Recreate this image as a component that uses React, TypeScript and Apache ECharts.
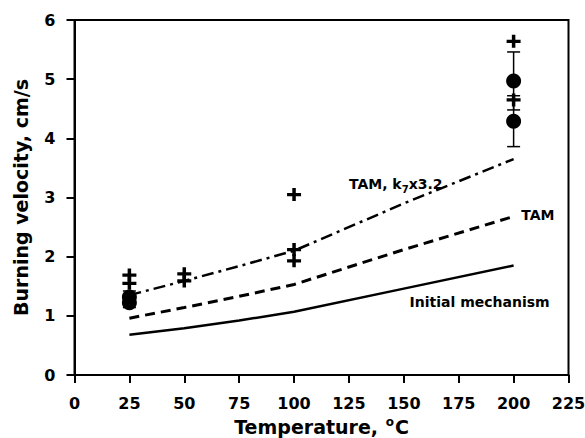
import React, { useEffect, useRef } from "react";
import * as echarts from "echarts";

const xTicks = [0, 25, 50, 75, 100, 125, 150, 175, 200, 225];
const initialMech: [number, number][] = [
  [25, 0.68], [50, 0.79], [75, 0.92], [100, 1.07], [150, 1.46], [200, 1.85],
];
const tam: [number, number][] = [
  [25, 0.96], [50, 1.14], [75, 1.33], [100, 1.53], [150, 2.12], [200, 2.68],
];
const tamK7: [number, number][] = [
  [25, 1.35], [50, 1.59], [75, 1.84], [100, 2.1], [150, 2.9], [200, 3.65],
];
const plusData: [number, number][] = [
  [25, 1.69], [25, 1.55], [50, 1.71], [50, 1.59], [100, 3.05], [100, 2.12], [100, 1.93],
  [200, 5.64], [200, 4.65],
];
const circleData: [number, number][] = [
  [25, 1.32], [25, 1.22], [200, 4.97], [200, 4.29],
];
const circleErr = [0.1, 0.08, 0.49, 0.43];

const FONT = "'DejaVu Sans', 'Liberation Sans', Arial, sans-serif";
const PLUS = "path://M3,0H5V3H8V5H5V8H3V5H0V3H3Z";

export default function App() {
  const ref = useRef<HTMLDivElement>(null);
  useEffect(() => {
    const chart = echarts.init(ref.current!, null, { renderer: "svg" });
    const lineBase = { type: "line", symbol: "none", silent: true, z: 2 } as any;
    const titleStyle = { fontFamily: FONT, fontWeight: "bold", fontSize: 19, color: "#000" };
    chart.setOption({
      animation: false,
      backgroundColor: "#fff",
      grid: {
        left: 74.5, right: 16.5, top: 20, bottom: 63,
        containLabel: false, outerBoundsMode: "none",
        show: true, borderColor: "#000", borderWidth: 2, backgroundColor: "transparent",
      },
      xAxis: {
        type: "value", min: 0, max: 225, interval: 25,
        name: "{a|Temperature, }{o|o}{a|C}", nameLocation: "middle", nameGap: 40,
        nameTextStyle: {
          ...titleStyle,
          rich: {
            a: { ...titleStyle },
            o: { ...titleStyle, fontSize: 12, padding: [0, 1, 11, 1] },
          },
        },
        axisLine: { show: true, onZero: false, lineStyle: { color: "#000", width: 2 } },
        axisTick: { show: true, inside: false, length: 8, lineStyle: { color: "#000", width: 2 } },
        axisLabel: { fontFamily: FONT, fontWeight: "bold", fontSize: 16, color: "#000", margin: 20 },
        splitLine: { show: false },
      },
      yAxis: {
        type: "value", min: 0, max: 6, interval: 1,
        name: "Burning velocity, cm/s", nameLocation: "middle", nameGap: 44,
        nameTextStyle: { ...titleStyle },
        axisLine: { show: true, onZero: false, lineStyle: { color: "#000", width: 2 } },
        axisTick: { show: true, inside: false, length: 8, lineStyle: { color: "#000", width: 2 } },
        axisLabel: { fontFamily: FONT, fontWeight: "bold", fontSize: 16, color: "#000", margin: 19 },
        splitLine: { show: false },
      },
      series: [
        { ...lineBase, name: "Initial mechanism", data: initialMech, lineStyle: { color: "#000", width: 2.5 } },
        { ...lineBase, name: "TAM", data: tam, lineStyle: { color: "#000", width: 3, type: [10, 6] } },
        { ...lineBase, name: "TAM, k7x3.2", data: tamK7, lineStyle: { color: "#000", width: 2.5, type: [12, 5, 3, 5] } },
        {
          type: "custom", name: "err", z: 3, silent: true,
          data: circleData.map((d, i) => [d[0], d[1], circleErr[i]]),
          renderItem: (params: any, api: any) => {
            const x = api.value(0), y = api.value(1), e = api.value(2);
            const top = api.coord([x, y + e]);
            const bot = api.coord([x, y - e]);
            const w = 6.5;
            const st = { stroke: "#000", lineWidth: 1.5 };
            return {
              type: "group",
              children: [
                { type: "line", shape: { x1: top[0], y1: top[1], x2: bot[0], y2: bot[1] }, style: st },
                { type: "line", shape: { x1: top[0] - w, y1: top[1], x2: top[0] + w, y2: top[1] }, style: st },
                { type: "line", shape: { x1: bot[0] - w, y1: bot[1], x2: bot[0] + w, y2: bot[1] }, style: st },
              ],
            };
          },
        },
        {
          type: "scatter", name: "circles", data: circleData, symbol: "circle", symbolSize: 15,
          itemStyle: { color: "#000", opacity: 1 }, z: 4, silent: true,
        },
        {
          type: "scatter", name: "plus", data: plusData, symbol: PLUS, symbolSize: [14, 13],
          itemStyle: { color: "#000", opacity: 1 }, z: 4, silent: true,
        },
      ],
    });

    const p = (x: number, y: number) => chart.convertToPixel({ gridIndex: 0 }, [x, y]) as number[];
    const lblStyle = { fontFamily: FONT, fontWeight: "bold", fontSize: 14, fill: "#000" };
    const a = p(125, 3.22);
    const b = p(203.5, 2.71);
    const c = p(184.5, 1.24);
    chart.setOption({
      graphic: [
        {
          type: "text", x: a[0], y: a[1],
          style: {
            text: "{t|TAM, k}{s|7}{t|x3.2}",
            textVerticalAlign: "middle",
            rich: {
              t: { ...lblStyle },
              s: { ...lblStyle, fontSize: 10, padding: [10, 0, 0, 0] },
            },
            ...lblStyle,
          },
        },
        { type: "text", x: b[0], y: b[1], style: { text: "TAM", ...lblStyle, textVerticalAlign: "middle", textAlign: "left" } },
        { type: "text", x: c[0], y: c[1], style: { text: "Initial mechanism", ...lblStyle, textVerticalAlign: "middle", textAlign: "center" } },
      ],
    });
    return () => chart.dispose();
  }, []);
  return <div ref={ref} style={{ width: 585, height: 438, position: "absolute", left: 0, top: 0 }} />;
}
